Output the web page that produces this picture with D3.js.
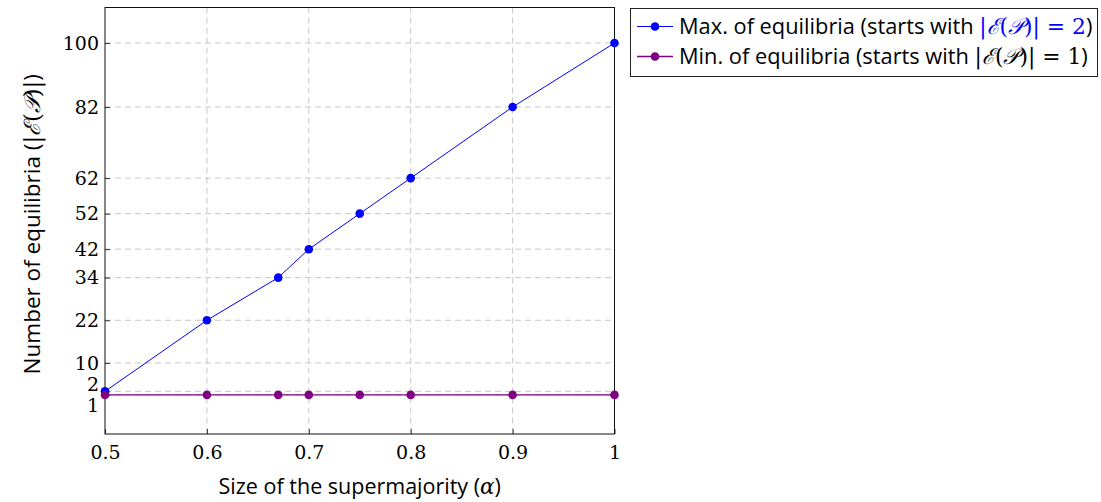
<!DOCTYPE html>
<html>
<head>
<meta charset="utf-8">
<script src="https://cdn.jsdelivr.net/npm/d3@7"></script>
<style>
body { margin: 0; background: #fff; }
text { fill: #000; }
</style>
</head>
<body>
<script>
// data
const alphas = [0.5, 0.6, 0.67, 0.7, 0.75, 0.8, 0.9, 1];
const maxEq = [2, 22, 34, 42, 52, 62, 82, 100];
const minEq = [1, 1, 1, 1, 1, 1, 1, 1];
const xTicks = [0.5, 0.6, 0.7, 0.8, 0.9, 1];
const yTicks = [1, 2, 10, 22, 34, 42, 52, 62, 82, 100];
const seriesNames = ["Max. of equilibria (starts with ", "Min. of equilibria (starts with "];
const seriesEnds = ["2", "1"];
const colors = ["#0000ff", "#800080"];

const W = 1101, H = 502;
const svg = d3.select("body").append("svg").attr("width", W).attr("height", H);

const x = d3.scaleLinear().domain([0.5, 1]).range([105, 614.5]);
const y = d3.scaleLinear().domain([-10, 110]).range([434, 7.5]);

const sans = "'Open Sans', 'DejaVu Sans', sans-serif";
const serif = "'DejaVu Serif', 'Liberation Serif', serif";

// grid
const grid = svg.append("g").attr("stroke", "#c8c8c8").attr("stroke-dasharray", "6,4").attr("stroke-width", 1);
grid.selectAll(".gx").data(xTicks.slice(1, -1)).join("line")
  .attr("x1", d => x(d)).attr("x2", d => x(d)).attr("y1", y(110)).attr("y2", y(-10));
grid.selectAll(".gy").data(yTicks).join("line")
  .attr("y1", d => y(d)).attr("y2", d => y(d)).attr("x1", x(0.5)).attr("x2", x(1));

// axes
const xAxis = svg.append("g").attr("transform", `translate(0,${y(-10)})`)
  .call(d3.axisBottom(x).tickValues(xTicks).tickSize(-5).tickPadding(12).tickFormat(d => d === 1 ? "1" : d3.format(".1f")(d)));
const yAxis = svg.append("g").attr("transform", `translate(${x(0.5)},0)`)
  .call(d3.axisLeft(y).tickValues(yTicks).tickSize(-5).tickPadding(6));
[xAxis, yAxis].forEach(a => {
  a.select(".domain").remove();
  a.selectAll(".tick line").attr("stroke", "#333");
  a.selectAll(".tick text").attr("font-size", 19).attr("font-family", serif);
});
// keep labels 1 and 2 apart
yAxis.selectAll(".tick text").attr("dy", d => d === 2 ? "-0.05em" : d === 1 ? "0.85em" : "0.32em");

// frame
svg.append("rect").attr("x", x(0.5)).attr("y", y(110)).attr("width", x(1) - x(0.5)).attr("height", y(-10) - y(110))
  .attr("fill", "none").attr("stroke", "#111").attr("stroke-width", 1);

// series
const series = [maxEq, minEq];
series.forEach((vals, i) => {
  const pts = alphas.map((a, j) => [a, vals[j]]);
  svg.append("path").datum(pts)
    .attr("fill", "none").attr("stroke", colors[i]).attr("stroke-width", i === 1 ? 1.4 : 1)
    .attr("d", d3.line().x(d => x(d[0])).y(d => y(d[1])));
  svg.append("g").selectAll("circle").data(pts).join("circle")
    .attr("cx", d => x(d[0])).attr("cy", d => y(d[1])).attr("r", 4.3).attr("fill", colors[i]);
});

// axis labels
svg.append("text").attr("x", x(0.75)).attr("y", 494).attr("text-anchor", "middle")
  .attr("font-family", sans).attr("font-size", 21.5)
  .call(t => {
    t.append("tspan").text("Size of the supermajority (");
    t.append("tspan").attr("font-family", serif).attr("font-style", "italic").text("α");
    t.append("tspan").text(")");
  });

function mathSet(t, color, end) {
  t.append("tspan").attr("font-family", serif).attr("fill", color).text("|");
  t.append("tspan").attr("font-family", serif).attr("font-style", "italic").attr("fill", color).text("ℰ");
  t.append("tspan").attr("font-family", serif).attr("fill", color).text("(");
  t.append("tspan").attr("font-family", serif).attr("font-style", "italic").attr("fill", color).text("𝒫");
  t.append("tspan").attr("font-family", serif).attr("fill", color).text(")|");
  if (end !== undefined) t.append("tspan").attr("font-family", serif).attr("fill", color).text(" = " + end);
}

svg.append("text").attr("transform", `translate(40,${y(49)}) rotate(-90)`).attr("text-anchor", "middle")
  .attr("font-family", sans).attr("font-size", 22.5)
  .call(t => {
    t.append("tspan").text("Number of equilibria (");
    mathSet(t, "#000");
    t.append("tspan").text(")");
  });

// legend
const lg = svg.append("g");
lg.append("rect").attr("x", 630.5).attr("y", 8.5).attr("width", 467).attr("height", 68)
  .attr("fill", "#fff").attr("stroke", "#222").attr("stroke-width", 1);
[0, 1].forEach(i => {
  const cy = 26.5 + i * 30;
  lg.append("line").attr("x1", 637).attr("x2", 673).attr("y1", cy).attr("y2", cy)
    .attr("stroke", colors[i]).attr("stroke-width", i === 1 ? 1.4 : 1);
  lg.append("circle").attr("cx", 655).attr("cy", cy).attr("r", 4.3).attr("fill", colors[i]);
  lg.append("text").attr("x", 679).attr("y", cy + 7.5).attr("font-family", sans).attr("font-size", 21.8)
    .call(t => {
      t.append("tspan").text(seriesNames[i]);
      mathSet(t, i === 0 ? "#0000ff" : "#000", seriesEnds[i]);
      t.append("tspan").text(")");
    });
});
</script>
</body>
</html>
